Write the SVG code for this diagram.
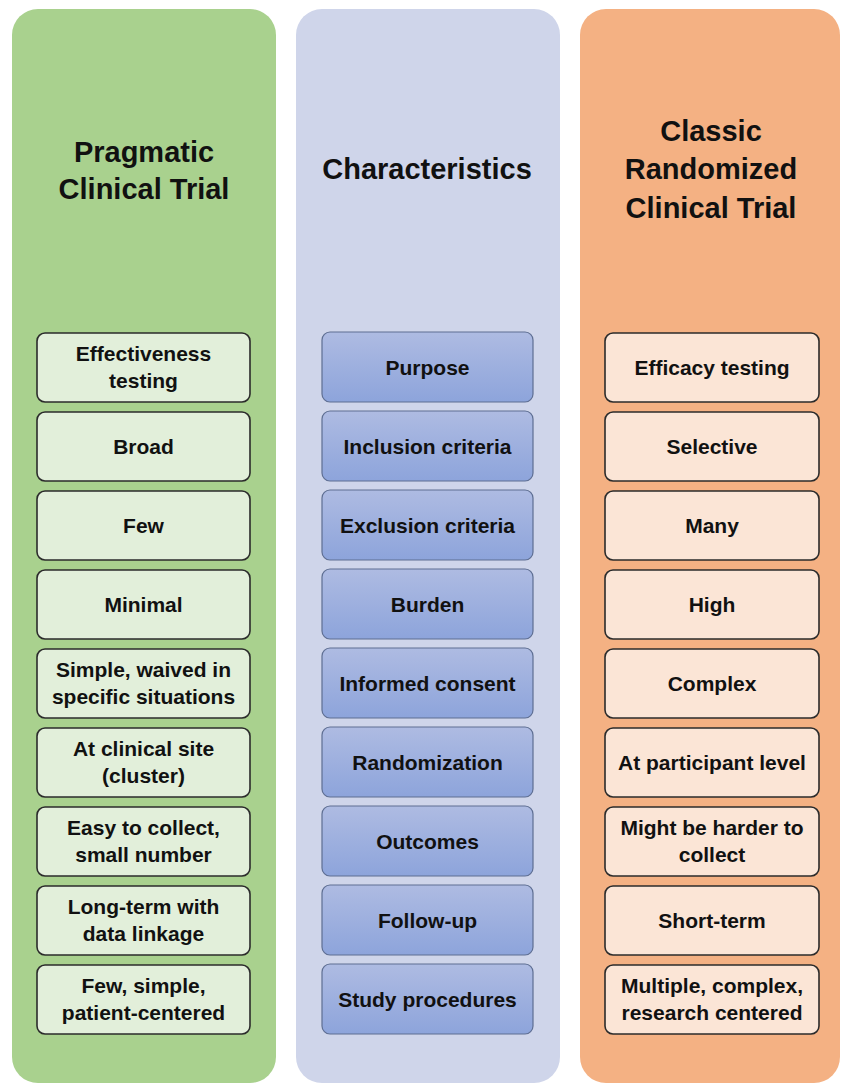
<svg xmlns="http://www.w3.org/2000/svg" width="841" height="1083" viewBox="0 0 841 1083">
<defs>
<linearGradient id="blueGrad" x1="0" y1="0" x2="0" y2="1">
<stop offset="0" stop-color="#AEBBE2"/>
<stop offset="1" stop-color="#8DA4DB"/>
</linearGradient>
<style>
.title{font-family:"Liberation Sans",Arial,sans-serif;font-weight:bold;font-size:29px;fill:#111;text-anchor:middle}
.lbl{font-family:"Liberation Sans",Arial,sans-serif;font-weight:bold;font-size:21px;fill:#111;text-anchor:middle}
.gbox{fill:#E2EFDA;stroke:#2b2b2b;stroke-width:1.6}
.bbox{fill:url(#blueGrad);stroke:#5E6E92;stroke-width:1.2}
.obox{fill:#FBE5D6;stroke:#2b2b2b;stroke-width:1.6}
</style>
</defs>
<rect width="841" height="1083" fill="#ffffff"/>
<g id="col-pragmatic">
<rect x="12" y="9" width="264" height="1074" rx="26" fill="#A9D18E"/>
<text class="title" x="144" y="162">Pragmatic</text>
<text class="title" x="144" y="199">Clinical Trial</text>
</g>
<g id="col-characteristics">
<rect x="296" y="9" width="264" height="1074" rx="26" fill="#CFD5EA"/>
<text class="title" x="427" y="179">Characteristics</text>
</g>
<g id="col-classic">
<rect x="580" y="9" width="260" height="1074" rx="26" fill="#F4B183"/>
<text class="title" x="711" y="141">Classic</text>
<text class="title" x="711" y="179">Randomized</text>
<text class="title" x="711" y="218">Clinical Trial</text>
</g>

<g id="p1"><rect class="gbox" x="37" y="333" width="213" height="69" rx="8"/><text class="lbl" x="143.5" y="361">Effectiveness</text><text class="lbl" x="143.5" y="388">testing</text></g>
<g id="p2"><rect class="gbox" x="37" y="412" width="213" height="69" rx="8"/><text class="lbl" x="143.5" y="454">Broad</text></g>
<g id="p3"><rect class="gbox" x="37" y="491" width="213" height="69" rx="8"/><text class="lbl" x="143.5" y="533">Few</text></g>
<g id="p4"><rect class="gbox" x="37" y="570" width="213" height="69" rx="8"/><text class="lbl" x="143.5" y="612">Minimal</text></g>
<g id="p5"><rect class="gbox" x="37" y="649" width="213" height="69" rx="8"/><text class="lbl" x="143.5" y="677">Simple, waived in</text><text class="lbl" x="143.5" y="704">specific situations</text></g>
<g id="p6"><rect class="gbox" x="37" y="728" width="213" height="69" rx="8"/><text class="lbl" x="143.5" y="756">At clinical site</text><text class="lbl" x="143.5" y="783">(cluster)</text></g>
<g id="p7"><rect class="gbox" x="37" y="807" width="213" height="69" rx="8"/><text class="lbl" x="143.5" y="835">Easy to collect,</text><text class="lbl" x="143.5" y="862">small number</text></g>
<g id="p8"><rect class="gbox" x="37" y="886" width="213" height="69" rx="8"/><text class="lbl" x="143.5" y="914">Long-term with</text><text class="lbl" x="143.5" y="941">data linkage</text></g>
<g id="p9"><rect class="gbox" x="37" y="965" width="213" height="69" rx="8"/><text class="lbl" x="143.5" y="993">Few, simple,</text><text class="lbl" x="143.5" y="1020">patient-centered</text></g>

<g id="c1"><rect class="bbox" x="322" y="332" width="211" height="70" rx="8"/><text class="lbl" x="427.5" y="374.5">Purpose</text></g>
<g id="c2"><rect class="bbox" x="322" y="411" width="211" height="70" rx="8"/><text class="lbl" x="427.5" y="453.5">Inclusion criteria</text></g>
<g id="c3"><rect class="bbox" x="322" y="490" width="211" height="70" rx="8"/><text class="lbl" x="427.5" y="532.5">Exclusion criteria</text></g>
<g id="c4"><rect class="bbox" x="322" y="569" width="211" height="70" rx="8"/><text class="lbl" x="427.5" y="611.5">Burden</text></g>
<g id="c5"><rect class="bbox" x="322" y="648" width="211" height="70" rx="8"/><text class="lbl" x="427.5" y="690.5">Informed consent</text></g>
<g id="c6"><rect class="bbox" x="322" y="727" width="211" height="70" rx="8"/><text class="lbl" x="427.5" y="769.5">Randomization</text></g>
<g id="c7"><rect class="bbox" x="322" y="806" width="211" height="70" rx="8"/><text class="lbl" x="427.5" y="848.5">Outcomes</text></g>
<g id="c8"><rect class="bbox" x="322" y="885" width="211" height="70" rx="8"/><text class="lbl" x="427.5" y="927.5">Follow-up</text></g>
<g id="c9"><rect class="bbox" x="322" y="964" width="211" height="70" rx="8"/><text class="lbl" x="427.5" y="1006.5">Study procedures</text></g>

<g id="r1"><rect class="obox" x="605" y="333" width="214" height="69" rx="8"/><text class="lbl" x="712" y="375">Efficacy testing</text></g>
<g id="r2"><rect class="obox" x="605" y="412" width="214" height="69" rx="8"/><text class="lbl" x="712" y="454">Selective</text></g>
<g id="r3"><rect class="obox" x="605" y="491" width="214" height="69" rx="8"/><text class="lbl" x="712" y="533">Many</text></g>
<g id="r4"><rect class="obox" x="605" y="570" width="214" height="69" rx="8"/><text class="lbl" x="712" y="612">High</text></g>
<g id="r5"><rect class="obox" x="605" y="649" width="214" height="69" rx="8"/><text class="lbl" x="712" y="691">Complex</text></g>
<g id="r6"><rect class="obox" x="605" y="728" width="214" height="69" rx="8"/><text class="lbl" x="712" y="770">At participant level</text></g>
<g id="r7"><rect class="obox" x="605" y="807" width="214" height="69" rx="8"/><text class="lbl" x="712" y="835">Might be harder to</text><text class="lbl" x="712" y="862">collect</text></g>
<g id="r8"><rect class="obox" x="605" y="886" width="214" height="69" rx="8"/><text class="lbl" x="712" y="928">Short-term</text></g>
<g id="r9"><rect class="obox" x="605" y="965" width="214" height="69" rx="8"/><text class="lbl" x="712" y="993">Multiple, complex,</text><text class="lbl" x="712" y="1020">research centered</text></g>

<g id="connectors"></g>
</svg>
